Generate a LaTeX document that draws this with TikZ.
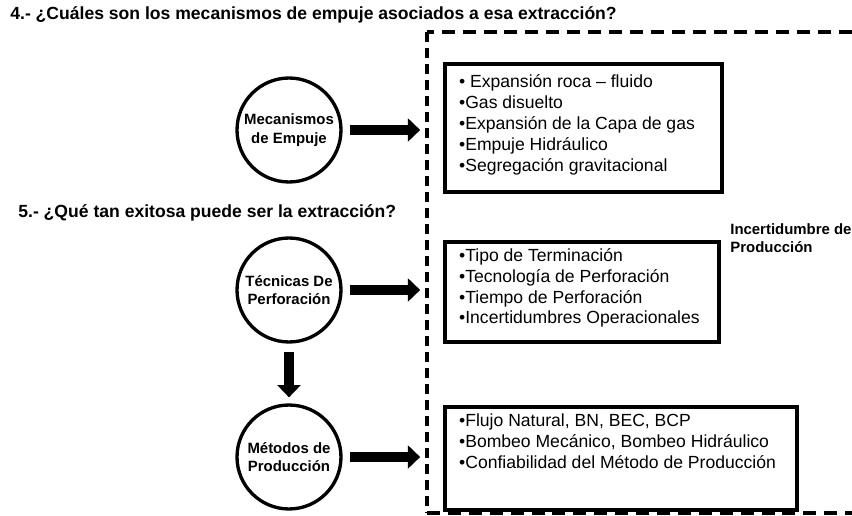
\documentclass[tikz,border=0pt]{standalone}
\usepackage{fontspec}
\setmainfont{Liberation Sans}
\usetikzlibrary{arrows.meta,positioning}

\begin{document}
\begin{tikzpicture}[x=0.02cm,y=-0.02cm,
    etapa/.style={circle, draw, line width=1.9pt, minimum size=2.08cm, inner sep=0pt, align=center, font=\bfseries\fontsize{8.5}{10.5}\selectfont},
    caja/.style={draw, line width=2.4pt, anchor=north west, inner sep=0pt},
    lista/.style={anchor=north west, align=left, inner sep=0pt, font=\fontsize{10}{11.9}\selectfont},
    flecha/.style={line width=5.8pt, -{Triangle[length=7pt,width=13pt]}},
    pregunta/.style={anchor=west, inner sep=0pt, font=\bfseries\fontsize{10}{12}\selectfont}]
    \useasboundingbox (0,0) rectangle (852,516);
    % preguntas
    \node[pregunta] (p4) at (10,15) {4.- ¿Cuáles son los mecanismos de empuje asociados a esa extracción?};
    \node[pregunta] (p5) at (18,213) {5.- ¿Qué tan exitosa puede ser la extracción?};
    % marco punteado
    \draw[line width=2.6pt, dash pattern=on 7.4pt off 4.5pt] (852,32) -- (427,32);
    \draw[line width=2.4pt, dash pattern=on 5.7pt off 3.4pt] (427,32) -- (427,513);
    \draw[line width=2.6pt, dash pattern=on 7.4pt off 4.5pt] (427,513) -- (852,513);
    \node[anchor=west, align=left, inner sep=0pt, font=\bfseries\fontsize{8.5}{10.2}\selectfont] (incert) at (730,238) {Incertidumbre de\\Producción};
    % circulos
    \node[etapa] (mec) at (289,130) {Mecanismos\\de Empuje};
    \node[etapa] (tec) at (289,290) {Técnicas De\\Perforación};
    \node[etapa] (met) at (289,457) {Métodos de\\Producción};
    % cajas
    \node[caja, minimum width=5.54cm, minimum height=2.56cm] (c1) at (443,62) {};
    \node[caja, minimum width=5.48cm, minimum height=2.0cm] (c2) at (443,240) {};
    \node[caja, minimum width=7.04cm, minimum height=2.06cm] (c3) at (443,405) {};
    \node[lista] (l1) at ([shift={(9pt,-7pt)}]c1.north west) {• Expansión roca – fluido\\•Gas disuelto\\•Expansión de la Capa de gas\\•Empuje Hidráulico\\•Segregación gravitacional};
    \node[lista] (l2) at ([shift={(9pt,-4.5pt)}]c2.north west) {•Tipo de Terminación\\•Tecnología de Perforación\\•Tiempo de Perforación\\•Incertidumbres Operacionales};
    \node[lista] (l3) at ([shift={(9pt,-5pt)}]c3.north west) {•Flujo Natural, BN, BEC, BCP\\•Bombeo Mecánico, Bombeo Hidráulico\\•Confiabilidad del Método de Producción};
    % flechas
    \draw[flecha, shorten <=4pt, shorten >=13pt] (mec.east) -- (mec.east -| c1.west);
    \draw[flecha, shorten <=4pt, shorten >=13pt] (tec.east) -- (tec.east -| c2.west);
    \draw[flecha, shorten <=4pt, shorten >=13pt] (met.east) -- (met.east -| c3.west);
    \draw[flecha, shorten <=4.5pt, shorten >=3.4pt] (tec.south) -- (met.north);
\end{tikzpicture}
\end{document}
